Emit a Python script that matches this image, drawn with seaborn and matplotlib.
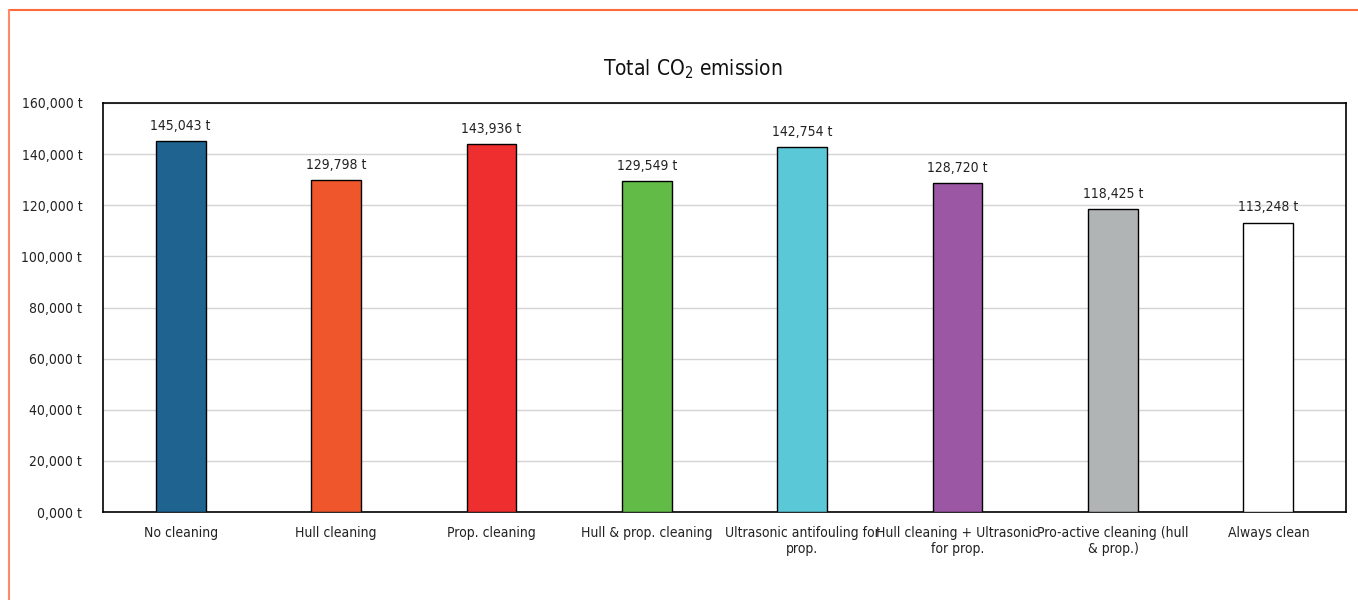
import matplotlib as mpl
from matplotlib import pyplot as plt
from matplotlib.lines import Line2D
import seaborn as sns
import pandas as pd

categories = ["No cleaning", "Hull cleaning", "Prop. cleaning", "Hull & prop. cleaning",
              "Ultrasonic antifouling for\nprop.", "Hull cleaning + Ultrasonic\nfor prop.",
              "Pro-active cleaning (hull\n& prop.)", "Always clean"]
emissions = [145043, 129798, 143936, 129549, 142754, 128720, 118425, 113248]
colors = ["#1F6391", "#EF562B", "#EE2E2F", "#62BB46", "#5BC8D8", "#9C57A4", "#B1B4B5", "#FFFFFF"]
yticks = [0, 20000, 40000, 60000, 80000, 100000, 120000, 140000, 160000]
ytick_labels = ["0,000 t"] + [f"{v:,} t" for v in yticks[1:]]

df = pd.DataFrame({"Scenario": categories, "Emission": emissions})

sns.set_style("white")
plt.rcParams['font.family'] = ['DejaVu Sans']
plt.rcParams['font.stretch'] = 'condensed'

fig = plt.figure(figsize=(13.58, 6), dpi=100)
ax = fig.add_axes([103/1358, 1 - 512/600, (1346-103)/1358, (512-103)/600])

sns.barplot(data=df, x="Scenario", y="Emission", hue="Scenario",
            palette=dict(zip(categories, colors)), legend=False, saturation=1,
            width=0.32, edgecolor="black", linewidth=1, ax=ax, zorder=3)

for cont in ax.containers:
    ax.bar_label(cont, labels=[f"{v.get_height():,.0f} t" for v in cont],
                 padding=6, fontsize=10, color="#222222")

ax.set_ylim(0, 160000)
ax.set_yticks(yticks)
ax.set_yticklabels(ytick_labels)
ax.yaxis.grid(True, color="#d4d4d4", linewidth=1, zorder=0)
ax.set_axisbelow(True)
ax.tick_params(axis="y", length=0, pad=15, labelsize=10, colors="#222222")
ax.tick_params(axis="x", length=0, pad=10, labelsize=10, colors="#222222")
ax.set_xlabel("")
ax.set_ylabel("")
for s in ax.spines.values():
    s.set_color("black")
    s.set_linewidth(1.2)

fig.text(0.51, 1 - 69/600, "Total CO$_2$ emission", ha="center", va="center",
         fontsize=15, color="#111111")

# orange frame on top and left
fig.add_artist(Line2D([9/1358, 1], [1 - 10/600, 1 - 10/600], color="#FF6A3D", linewidth=1.5, transform=fig.transFigure))
fig.add_artist(Line2D([9/1358, 9/1358], [0, 1 - 10/600], color="#FF8A6A", linewidth=1.5, transform=fig.transFigure))

plt.savefig("out.png", dpi=100)
